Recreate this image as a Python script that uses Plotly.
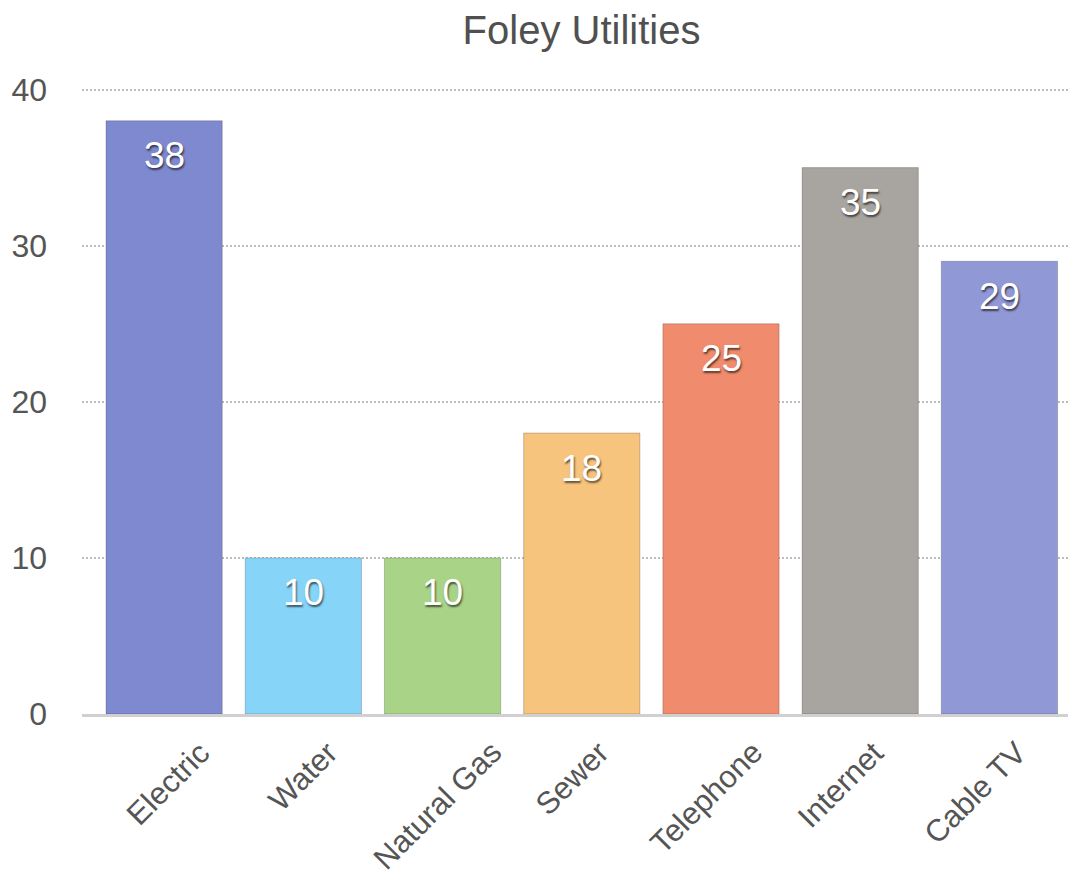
import plotly.graph_objects as go

categories = ["Electric", "Water", "Natural Gas", "Sewer", "Telephone", "Internet", "Cable TV"]
values = [38, 10, 10, 18, 25, 35, 29]
colors = ["#7f89cf", "#87d4f9", "#a9d387", "#f6c47d", "#f08c6d", "#a8a5a0", "#9099d6"]
y_ticks = [0, 10, 20, 30, 40]

fig = go.Figure()
fig.add_trace(go.Bar(
    x=categories,
    y=values,
    marker=dict(color=colors, line=dict(color="rgba(0,0,0,0.2)", width=1)),
))

# invisible trace on a second category axis: the rotated labels of the
# original are spaced a bit tighter than the bars
fig.add_trace(go.Scatter(
    x=categories, y=values, xaxis="x2", mode="none",
    hoverinfo="skip", showlegend=False,
))

# value labels sit inside the top of each bar
for cat, val in zip(categories, values):
    fig.add_annotation(
        x=cat, y=val, text=str(val), showarrow=False,
        yanchor="middle", yshift=-35,
        font=dict(size=37, color="white", family="Liberation Sans",
                  shadow="1px 2px 2px rgba(0,0,0,0.6)"),
    )

# category labels, rotated, centred under their slot
for cat in categories:
    fig.add_annotation(
        x=cat, xref="x2", y=0, yref="paper", text=cat, showarrow=False,
        textangle=-45, xanchor="center", yanchor="top", yshift=-18,
        font=dict(size=31, color="#555555", family="Liberation Sans"),
    )

# page body has an 8px margin, so the figure is 8px smaller than the window
fig.update_layout(
    width=1068, height=869,
    paper_bgcolor="white", plot_bgcolor="white",
    margin=dict(l=74, r=0, t=80, b=163),
    bargap=0.165,
    showlegend=False,
    title=dict(text="Foley Utilities", x=0.537, xanchor="center", y=0.975, yanchor="middle",
               font=dict(size=40, color="#505050", family="Liberation Sans")),
    font=dict(family="Liberation Sans", color="#555555"),
    xaxis=dict(range=[-0.59, 6.55], showticklabels=False,
               showline=True, linecolor="#d0d0d0", linewidth=3,
               showgrid=False, ticks="", automargin=False),
    xaxis2=dict(overlaying="x", anchor="y", visible=False, type="category",
                categoryorder="array", categoryarray=categories,
                range=[-0.64, 6.745]),
    yaxis=dict(range=[0, 40.1], tickvals=y_ticks,
               tickfont=dict(size=32, color="#555555"),
               showgrid=True, gridcolor="#bcbcbc", gridwidth=2, griddash="2px,2px",
               zeroline=False, showline=False, ticks="",
               ticklabelstandoff=34, automargin=False),
)

fig.write_html("out.html")
